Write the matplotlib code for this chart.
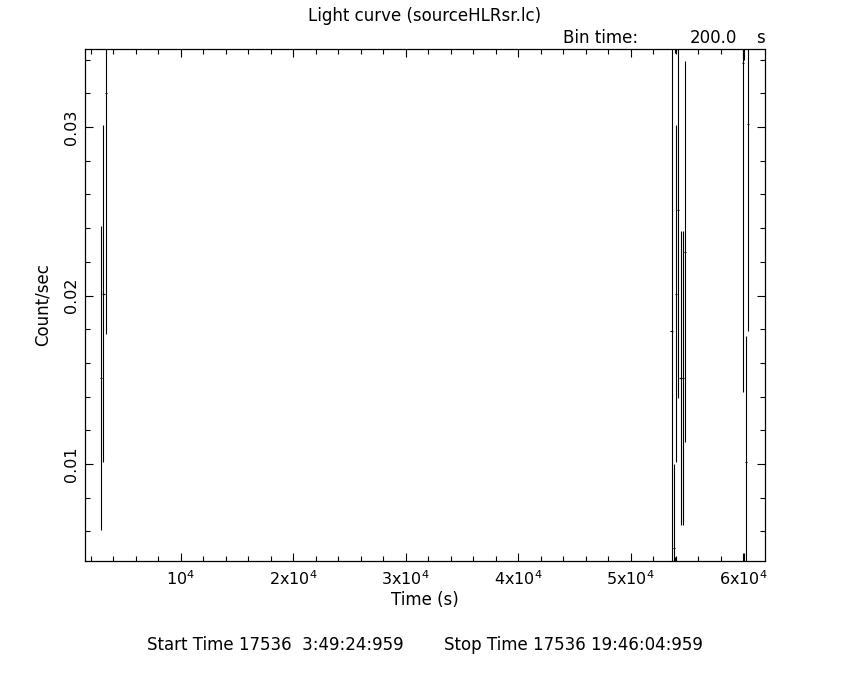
import matplotlib
matplotlib.use("Agg")
import matplotlib.pyplot as plt
from matplotlib.ticker import FixedLocator, MultipleLocator

# ---- data ----
times = [2930, 3130, 3330,
         53630, 53830, 53900, 53930, 54030, 54230, 54430, 54630, 54830,
         60010, 60070, 60080, 60260, 60460]
rates = [0.0151, 0.0201, 0.0320,
         0.0179, 0.0050, 0.0600, 0.0000, 0.0201, 0.0251, 0.0151, 0.0151, 0.0226,
         0.0338, 0.0800, 0.0000, 0.0101, 0.0302]
errors = [0.0090, 0.0100, 0.0143,
          0.0179, 0.0050, 0.0256, 0.0045, 0.0100, 0.0112, 0.0087, 0.0087, 0.0113,
          0.0195, 0.0460, 0.0047, 0.0075, 0.0123]
half_bin = 100.0

x_major = [10000, 20000, 30000, 40000, 50000, 60000]
x_labels = [r"10$^4$", r"2x10$^4$", r"3x10$^4$", r"4x10$^4$", r"5x10$^4$", r"6x10$^4$"]
y_major = [0.01, 0.02, 0.03]
y_labels = ["0.01", "0.02", "0.03"]

title = "Light curve (sourceHLRsr.lc)"
start_txt = "Start Time 17536  3:49:24:959"
stop_txt = "Stop Time 17536 19:46:04:959"

W, H = 850, 680
FS = 12
fig = plt.figure(figsize=(W / 100, H / 100), dpi=100)
ax = fig.add_axes([85 / W, 1 - 561 / H, 680 / W, 512 / H])

ax.errorbar(times, rates, yerr=errors, xerr=half_bin, fmt="none",
            ecolor="black", elinewidth=0.8, capsize=0)

ax.set_xlim(1493, 61938)
ax.set_ylim(0.004243, 0.03463)

ax.xaxis.set_major_locator(FixedLocator(x_major))
ax.set_xticklabels(x_labels)
ax.xaxis.set_minor_locator(MultipleLocator(2000))
ax.yaxis.set_major_locator(FixedLocator(y_major))
ax.set_yticklabels(y_labels)
ax.yaxis.set_minor_locator(MultipleLocator(0.002))

ax.tick_params(which="both", direction="in", top=True, right=True,
               width=0.8, color="black", labelsize=11.5)
ax.tick_params(which="major", length=5.5)
ax.tick_params(which="minor", length=3.3)
ax.tick_params(axis="x", pad=6)
ax.tick_params(axis="y", pad=4, labelrotation=90)
for lab in ax.get_yticklabels():
    lab.set_va("center")
for sp in ax.spines.values():
    sp.set_linewidth(0.9)

ax.set_xlabel("Time (s)", fontsize=FS, labelpad=2)
ax.set_ylabel("Count/sec", fontsize=FS, labelpad=9)

def px(x, y):
    return x / W, 1 - y / H

fig.text(*px(425, 16), title, ha="center", va="center", fontsize=FS)
fig.text(*px(563, 38), "Bin time:", ha="left", va="center", fontsize=FS)
fig.text(*px(737, 38), "200.0", ha="right", va="center", fontsize=FS)
fig.text(*px(765, 38), "s", ha="right", va="center", fontsize=FS)
fig.text(*px(147, 645), start_txt, ha="left", va="center", fontsize=FS)
fig.text(*px(703, 645), stop_txt, ha="right", va="center", fontsize=FS)

fig.savefig("out.png", dpi=100, facecolor="white")
